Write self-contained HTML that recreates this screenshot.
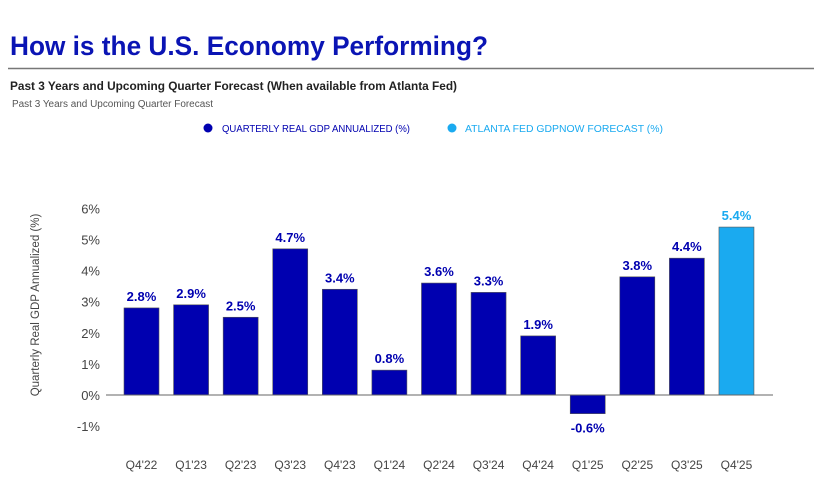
<!DOCTYPE html>
<html><head><meta charset="utf-8"><style>
body{margin:0;width:814px;height:485px;background:#fff;overflow:hidden;font-family:"Liberation Sans",sans-serif;}
svg{position:absolute;left:0;top:0}
</style></head><body>
<svg width="814" height="485">
<text x="10" y="55" font-size="27" font-weight="bold" fill="#0a14b4" textLength="478" lengthAdjust="spacingAndGlyphs">How is the U.S. Economy Performing?</text>
<line x1="8" y1="68.5" x2="814" y2="68.5" stroke="#777" stroke-width="1.5"/>
<text x="10" y="90" font-size="12" font-weight="bold" fill="#222" textLength="447" lengthAdjust="spacingAndGlyphs">Past 3 Years and Upcoming Quarter Forecast (When available from Atlanta Fed)</text>
<text x="12" y="107" font-size="10" fill="#555" textLength="201" lengthAdjust="spacingAndGlyphs">Past 3 Years and Upcoming Quarter Forecast</text>
<g>
<circle cx="208" cy="128" r="4.5" fill="#0000b0"/>
<text x="222" y="132" font-size="10.5" fill="#0000b0" textLength="188" lengthAdjust="spacingAndGlyphs">QUARTERLY REAL GDP ANNUALIZED (%)</text>
<circle cx="452" cy="128" r="4.5" fill="#1aaaf0"/>
<text x="465" y="132" font-size="10.5" fill="#1aaaf0" textLength="198" lengthAdjust="spacingAndGlyphs">ATLANTA FED GDPNOW FORECAST (%)</text>
</g>
<text transform="translate(39,305) rotate(-90)" text-anchor="middle" font-size="11.5" fill="#444">Quarterly Real GDP Annualized (%)</text>
<g id="plot"></g>
</svg>
<script>
const categories=["Q4'22","Q1'23","Q2'23","Q3'23","Q4'23","Q1'24","Q2'24","Q3'24","Q4'24","Q1'25","Q2'25","Q3'25","Q4'25"];
const values=[2.8,2.9,2.5,4.7,3.4,0.8,3.6,3.3,1.9,-0.6,3.8,4.4,5.4];
const isForecast=[false,false,false,false,false,false,false,false,false,false,false,false,true];
const yTicks=[-1,0,1,2,3,4,5,6];
const NS="http://www.w3.org/2000/svg";
const g=document.getElementById('plot');
const y=v=>395-v*31.1;
const x=i=>124+i*49.58;
const bw=35;
function mk(t,a){const e=document.createElementNS(NS,t);for(const k in a)e.setAttribute(k,a[k]);g.appendChild(e);return e;}
yTicks.forEach(t=>{
 const e=mk('text',{x:100,y:y(t)+5,'text-anchor':'end','font-size':13,fill:'#444'});
 e.textContent=t+'%';
 
 
});
values.forEach((v,i)=>{
 const c=isForecast[i]?'#1aaaf0':'#0000b0';
 const r=mk('rect',{x:x(i),y:Math.min(y(v),y(0)),width:bw,height:Math.abs(y(v)-y(0)),fill:c,stroke:'#555','stroke-width':0.6});
 
 
 const ly=v>=0?y(v)-7:y(v)+19;
 const l=mk('text',{x:x(i)+bw/2,y:ly,'text-anchor':'middle','font-size':13,'font-weight':'bold',fill:c});
 l.textContent=v.toFixed(1)+'%';
 
 
 const cl=mk('text',{x:x(i)+bw/2,y:469,'text-anchor':'middle','font-size':12,fill:'#444'});
 cl.textContent=categories[i];
 
 
});
const ax=mk('line',{x1:106,x2:773,y1:y(0),y2:y(0),stroke:'#666','stroke-width':1});


</script>
</body></html>
